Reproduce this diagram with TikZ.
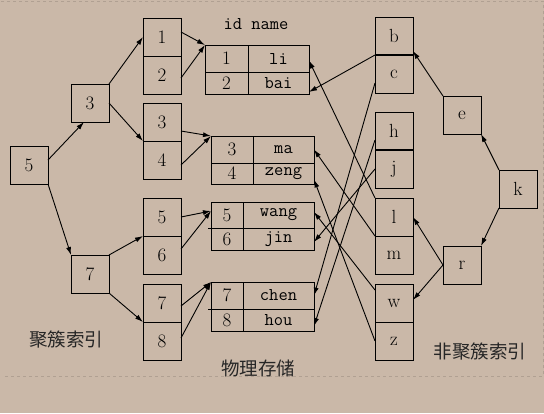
\documentclass[tikz,border=0pt]{standalone}
\usepackage{fontspec}
\newfontfamily\cjk{Noto Sans CJK SC}
\usetikzlibrary{arrows.meta, positioning}
\definecolor{paper}{RGB}{202,184,168}
\definecolor{frameline}{RGB}{176,160,146}

\tikzset{
  box/.style={draw, line width=0.8pt, outer sep=0pt, inner sep=0pt,
    minimum width=38pt, minimum height=38pt, font=\fontsize{19}{19}\selectfont},
  cell/.style={draw, line width=0.8pt, outer sep=0pt, inner sep=0pt},
  idtxt/.style={font=\fontsize{19}{19}\selectfont},
  nametxt/.style={font=\ttfamily\fontsize{18}{18}\selectfont},
  caption/.style={font=\cjk\fontsize{18.5}{18.5}\selectfont, text=black!85},
  ptr/.style={-{Latex[length=8pt,width=5pt]}, line width=0.9pt},
}

\begin{document}
\begin{tikzpicture}[x=1pt, y=-1pt]
  \fill[paper] (0,0) rectangle (544,413);
  \useasboundingbox (0,0) rectangle (544,413);
  \draw[frameline, dashed, line width=0.6pt] (5,376) -- (543,376) -- (543,1) -- (0,1);

  % clustered index tree
  \node[box] (n5) at (29,165) {5};
  \node[box] (n3) at (90,103) {3};
  \node[box] (n7) at (90,274) {7};

  \node[box] (s1) at (162,37) {1};
  \node[box, below=0pt of s1] (s2) {2};
  \node[box] (s3) at (162,122) {3};
  \node[box, below=0pt of s3] (s4) {4};
  \node[box] (s5) at (162,217) {5};
  \node[box, below=0pt of s5] (s6) {6};
  \node[box] (s7) at (162,303) {7};
  \node[box, below=0pt of s7] (s8) {8};

  % physical storage tables
  \node[nametxt] (head) at (256,24) {id name};

  \node[cell, idtxt, minimum width=43pt, minimum height=27pt] (t1a) at (226.5,58.5) {1};
  \node[cell, nametxt, minimum width=61pt, minimum height=27pt, right=0pt of t1a] (li) {li};
  \node[cell, idtxt, minimum width=43pt, minimum height=22pt, below=0pt of t1a] (t1b) {2};
  \node[cell, nametxt, minimum width=61pt, minimum height=22pt, right=0pt of t1b] (bai) {bai};

  \node[cell, idtxt, minimum width=42pt, minimum height=27pt] (t2a) at (232,149.5) {3};
  \node[cell, nametxt, minimum width=61pt, minimum height=27pt, right=0pt of t2a] (ma) {ma};
  \node[cell, idtxt, minimum width=42pt, minimum height=21pt, below=0pt of t2a] (t2b) {4};
  \node[cell, nametxt, minimum width=61pt, minimum height=21pt, right=0pt of t2b] (zeng) {zeng};

  \node[cell, idtxt, minimum width=32pt, minimum height=26pt] (t3a) at (227,215) {5};
  \node[cell, nametxt, minimum width=71pt, minimum height=26pt, right=0pt of t3a] (wang) {wang};
  \node[cell, idtxt, minimum width=32pt, minimum height=22pt, below=0pt of t3a] (t3b) {6};
  \node[cell, nametxt, minimum width=71pt, minimum height=22pt, right=0pt of t3b] (jin) {jin};
  \draw[line width=0.8pt] (t3b.north west) -- ++(-3,0);

  \node[cell, idtxt, minimum width=32pt, minimum height=27pt] (t4a) at (227,295.5) {7};
  \node[cell, nametxt, minimum width=71pt, minimum height=27pt, right=0pt of t4a] (chen) {chen};
  \node[cell, idtxt, minimum width=32pt, minimum height=22pt, below=0pt of t4a] (t4b) {8};
  \node[cell, nametxt, minimum width=71pt, minimum height=22pt, right=0pt of t4b] (hou) {hou};
  \draw[line width=0.8pt] (t4b.north west) -- ++(-3,0);

  % non-clustered index tree
  \node[box] (b) at (394,36) {b};
  \node[box, below=0pt of b] (c) {c};
  \node[box] (h) at (394,131) {h};
  \node[box, below=0pt of h] (j) {j};
  \node[box] (l) at (394,217) {l};
  \node[box, below=0pt of l] (m) {m};
  \node[box] (w) at (394,303) {w};
  \node[box, below=0pt of w] (z) {z};
  \draw[line width=1.6pt] (b.south west) -- (b.south east);
  \draw[line width=1.6pt] (h.south west) -- (h.south east);

  \node[box] (e) at (462,115) {e};
  \node[box] (k) at (518,189) {k};
  \node[box] (r) at (462,265) {r};

  % captions
  \node[caption] (cap1) at (66,340) {聚簇索引};
  \node[caption] (cap2) at (258,368) {物理存储};
  \node[caption] (cap3) at (480,352) {非聚簇索引};

  % clustered index pointers
  \draw[ptr] ([yshift=5pt]n5.east) -- ([xshift=-6pt]n3.south);
  \draw[ptr] (n5.south east) -- (n7.north west);
  \draw[ptr] (n3.north east) -- (s1.west);
  \draw[ptr] (n3.east) -- (s3.south west);
  \draw[ptr] (n7.north east) -- (s5.south west);
  \draw[ptr] (n7.south east) -- (s7.south west);
  \draw[ptr] ([yshift=5pt]s1.east) -- (t1a.north west);
  \draw[ptr] ([yshift=-3pt]s2.east) -- (t1a.north west);
  \draw[ptr] ([yshift=-9pt]s3.east) -- (t2a.north west);
  \draw[ptr] ([yshift=-5pt]s4.east) -- (t2a.north west);
  \draw[ptr] (s5.east) -- ([yshift=4pt]t3a.west);
  \draw[ptr] ([yshift=6pt]s6.east) -- ([yshift=4pt]t3a.west);
  \draw[ptr] ([yshift=-3pt]s7.east) -- (t4a.north west);
  \draw[ptr] ([yshift=3pt]s8.east) -- (t4a.north west);

  % non-clustered index pointers
  \draw[ptr] (e.north west) -- ([yshift=4pt]b.south east);
  \draw[ptr] (k.north west) -- (e.south east);
  \draw[ptr] (k.south west) -- (r.north east);
  \draw[ptr] (r.west) -- (l.east);
  \draw[ptr] (r.west) -- ([yshift=3pt]w.east);

  % leaf rows to storage
  \draw[ptr] (b.south west) -- ([yshift=2pt]bai.south east);
  \draw[ptr] (l.north west) -- ([yshift=-2pt]li.east);
  \draw[ptr] ([yshift=-9pt]c.west) -- (chen.east);
  \draw[ptr] ([yshift=-9pt]h.west) -- ([yshift=-6pt]hou.east);
  \draw[ptr] (j.west) -- ([yshift=-3pt]jin.east);
  \draw[ptr] (m.north west) -- (ma.east);
  \draw[ptr] ([yshift=-6pt]w.north west) -- ([yshift=3pt]wang.east);
  \draw[ptr] (z.west) -- ([yshift=-6pt]zeng.east);
\end{tikzpicture}
\end{document}
